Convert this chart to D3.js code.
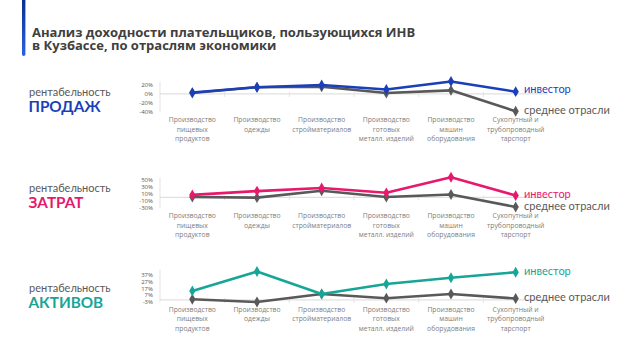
<!DOCTYPE html>
<html><head><meta charset="utf-8">
<script src="https://cdn.jsdelivr.net/npm/d3@7"></script>
<style>
html,body{margin:0;padding:0;background:#fff;}
svg{display:block;font-family:Lato,"Open Sans",sans-serif;}
</style></head><body>
<svg id="c" width="640" height="360"></svg>
<script>
const titleLines = ["Анализ доходности плательщиков, пользующихся ИНВ", "в Кузбассе, по отраслям экономики"];
const categories = [
  ["Производство","пищевых","продуктов"],
  ["Производство","одежды"],
  ["Производство","стройматериалов"],
  ["Производство","готовых","металл. изделий"],
  ["Производство","машин","оборудования"],
  ["Сухопутный и","трубопроводный","тарспорт"]
];
const seriesNames = ["инвестор", "среднее отрасли"];
const panelLabels = ["ПРОДАЖ", "ЗАТРАТ", "АКТИВОВ"];
const panelPrefix = "рентабельность";

const salesInvestor = [3, 15, 20, 10, 28, 5];
const salesAverage  = [2, 15, 16, 2, 8, -39];
const costsInvestor = [7, 18, 27, 13, 58, 5];
const costsAverage  = [1, -1, 19, 1, 8, -28];
const assetsInvestor = [13, 41, 8.5, 23, 32, 40];
const assetsAverage  = [1, -3, 8.5, 2.5, 8.5, 2];

const salesTicks = [20, 0, -20, -40];
const costsTicks = [50, 30, 10, -10, -30];
const assetsTicks = [37, 27, 17, 7, -3];

const panels = [
  {label: panelLabels[0], color: "#1a3fb8", inv: salesInvestor, avg: salesAverage, ticks: salesTicks,
   top: 81.7, bottom: 112.3, tHi: 85, tLo: 111.7, labTop: 120, prefY: 91.7, nameY: 106, legInvY: 89, legAvgY: 110.3},
  {label: panelLabels[1], color: "#e8186d", inv: costsInvestor, avg: costsAverage, ticks: costsTicks,
   top: 177.7, bottom: 208.3, tHi: 180, tLo: 207.7, labTop: 216, prefY: 187.7, nameY: 202.5, legInvY: 193.7, legAvgY: 205.7},
  {label: panelLabels[2], color: "#17a597", inv: assetsInvestor, avg: assetsAverage, ticks: assetsTicks,
   top: 270, bottom: 302, tHi: 274.3, tLo: 302, labTop: 309.5, prefY: 288.3, nameY: 302, legInvY: 271, legAvgY: 297.3}
];

const svg = d3.select("#c");
const defs = svg.append("defs");
const grad = defs.append("linearGradient").attr("id","bar").attr("x1",0).attr("y1",0).attr("x2",0).attr("y2",1);
grad.append("stop").attr("offset","0%").attr("stop-color","#0b2a8a");
grad.append("stop").attr("offset","100%").attr("stop-color","#2a63e0");
svg.append("rect").attr("x",22).attr("y",-4).attr("width",3.4).attr("height",60).attr("rx",1.7).attr("fill","url(#bar)");

svg.append("g").selectAll("text").data(titleLines).join("text")
  .attr("x",32).attr("y",(d,i)=>36.8+i*13.6)
  .attr("font-size",13).attr("font-weight",700).attr("fill","#404040")
  .attr("font-family","Open Sans, sans-serif").text(d=>d);

const x = d3.scaleBand().domain(d3.range(categories.length)).range([160, 548]);
const avgColor = "#595959";

panels.forEach(p => {
  const y = d3.scaleLinear().domain([p.ticks[p.ticks.length-1], p.ticks[0]]).range([p.tLo, p.tHi]);
  const g = svg.append("g");
  // left labels
  g.append("text").attr("x",29).attr("y",p.prefY+3.8).attr("font-size",11).attr("fill","#595959").text(panelPrefix);
  g.append("text").attr("x",28.5).attr("y",p.nameY+5.6).attr("font-size",15.3).attr("font-weight",700).attr("fill",p.color).text(p.label);
  // y axis
  const ya = d3.axisLeft(y).tickValues(p.ticks).tickSize(0).tickPadding(7).tickFormat(d=>d+"%");
  const yg = g.append("g").attr("transform","translate(160,0)").call(ya);
  yg.select(".domain").remove();
  yg.selectAll("text").attr("font-size",6).attr("fill","#595959").attr("font-family","Open Sans, sans-serif");
  g.append("line").attr("x1",160).attr("x2",160).attr("y1",p.top).attr("y2",p.bottom).attr("stroke","#e3e3e3").attr("stroke-width",1);
  // zero line
  g.append("line").attr("x1",160).attr("x2",548).attr("y1",y(0)).attr("y2",y(0)).attr("stroke","#d9d9d9").attr("stroke-width",1);
  // band tick marks
  g.selectAll(".tk").data(d3.range(1,categories.length)).join("line")
    .attr("x1",d=>x(d)).attr("x2",d=>x(d)).attr("y1",y(0)-2).attr("y2",y(0)+3)
    .attr("stroke","#e3e3e3").attr("stroke-width",1);
  // category labels
  categories.forEach((lines,i) => {
    g.append("text").attr("text-anchor","middle").attr("font-size",6.8).attr("fill","#808080")
      .attr("font-family","Open Sans, sans-serif")
      .selectAll("tspan").data(lines).join("tspan")
      .attr("x", x(i)+x.bandwidth()/2).attr("y",(d,j)=>p.labTop+2.4+j*9.3).text(d=>d);
  });
  const line = d3.line().x((d,i)=>x(i)+x.bandwidth()/2).y(d=>y(d));
  const diamond = d3.symbol().type(d3.symbolDiamond).size(34);
  [[p.avg, avgColor], [p.inv, p.color]].forEach(([vals,col]) => {
    g.append("path").datum(vals).attr("d",line).attr("fill","none").attr("stroke",col).attr("stroke-width",2.6).attr("stroke-linejoin","round");
    g.selectAll(null).data(vals).join("path")
      .attr("transform",(d,i)=>`translate(${x(i)+x.bandwidth()/2},${y(d)})`)
      .attr("d",diamond).attr("fill",col);
  });
  g.append("text").attr("x",524).attr("y",p.legInvY+3.9).attr("font-size",11).attr("fill",p.color).text(seriesNames[0]);
  g.append("text").attr("x",524).attr("y",p.legAvgY+3.9).attr("font-size",11).attr("fill",avgColor).text(seriesNames[1]);
});
</script>
</body></html>
